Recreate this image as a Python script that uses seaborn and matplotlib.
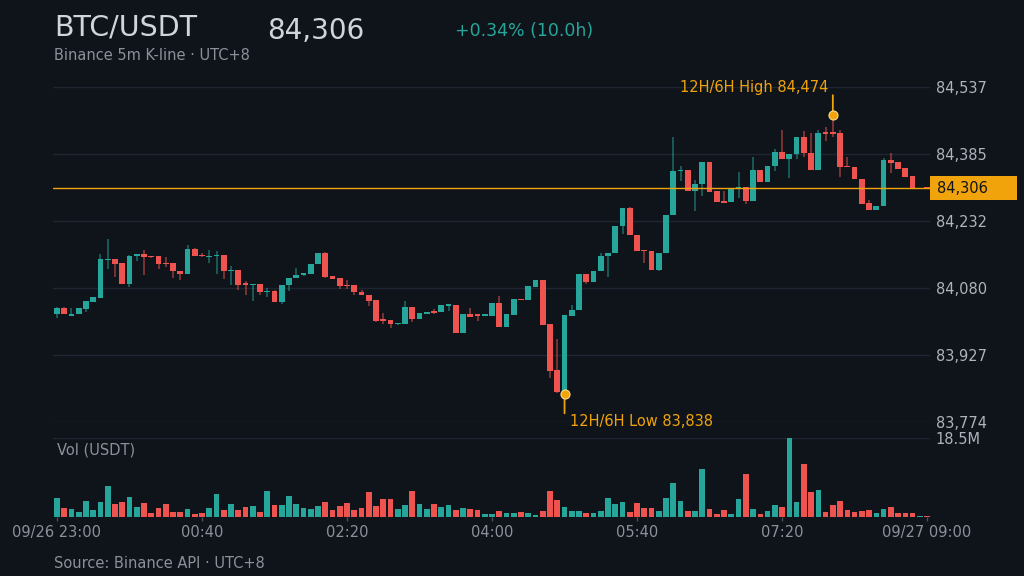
import numpy as np
import pandas as pd
import matplotlib
matplotlib.use('Agg')
import matplotlib.pyplot as plt
import matplotlib.transforms as mtransforms
from matplotlib.patches import Rectangle
import seaborn as sns

# BTC/USDT 5m candles, 09/26 23:00 -> 09/27 09:00 (UTC+8)
opens = [84019, 84033, 84016, 84019, 84031, 84048, 84057, 84143, 84146, 84136,
         84089, 84151, 84157, 84152, 84151, 84137, 84136, 84119, 84112, 84169,
         84155, 84150, 84151, 84154, 84117, 84121, 84090, 84086, 84089, 84070,
         84072, 84048, 84086, 84102, 84108, 84112, 84133, 84160, 84107, 84101,
         84087, 84087, 84071, 84064, 84051, 84008, 84007, 83997, 83998, 84037,
         84008, 84021, 84025, 84025, 84039, 84041, 83976, 84019, 84019, 84016,
         84016, 84044, 83991, 84018, 84054, 84052, 84082, 84098, 83997, 83892,
         83843, 84015, 84030, 84111, 84094, 84118, 84153, 84159, 84220, 84261,
         84200, 84165, 84164, 84121, 84158, 84246, 84345, 84347, 84299, 84316,
         84366, 84299, 84277, 84275, 84304, 84310, 84277, 84348, 84320, 84358,
         84389, 84374, 84384, 84422, 84386, 84349, 84434, 84434, 84433, 84356,
         84355, 84328, 84272, 84256, 84266, 84370, 84366, 84352, 84334, 84304,
         84307]
highs = [84037, 84036, 84033, 84034, 84049, 84059, 84156, 84190, 84146, 84136,
         84154, 84157, 84165, 84153, 84151, 84149, 84136, 84119, 84177, 84170,
         84158, 84166, 84163, 84154, 84130, 84121, 84096, 84089, 84089, 84080,
         84075, 84087, 84102, 84125, 84113, 84133, 84160, 84162, 84107, 84101,
         84098, 84087, 84075, 84064, 84051, 84022, 84007, 84000, 84049, 84037,
         84023, 84025, 84031, 84041, 84041, 84041, 84019, 84033, 84019, 84019,
         84044, 84061, 84020, 84055, 84054, 84083, 84098, 84098, 83997, 83962,
         84017, 84041, 84111, 84111, 84118, 84159, 84159, 84220, 84261, 84263,
         84200, 84165, 84164, 84159, 84246, 84422, 84357, 84347, 84325, 84366,
         84366, 84299, 84301, 84304, 84343, 84310, 84377, 84348, 84358, 84395,
         84439, 84384, 84422, 84436, 84433, 84440, 84446, 84474, 84440, 84377,
         84355, 84328, 84279, 84267, 84375, 84386, 84366, 84352, 84334, 84307,
         84307]
lows = [84010, 84019, 84015, 84019, 84025, 84047, 84057, 84122, 84104, 84089,
        84081, 84140, 84108, 84148, 84122, 84128, 84102, 84098, 84112, 84153,
        84150, 84136, 84112, 84099, 84086, 84074, 84064, 84049, 84063, 84058,
        84048, 84042, 84072, 84102, 84107, 84112, 84133, 84101, 84099, 84078,
        84078, 84063, 84063, 84039, 84001, 83998, 83989, 83996, 83997, 84001,
        84008, 84020, 84020, 84025, 84026, 83976, 83976, 84014, 84004, 84015,
        84016, 83991, 83991, 84018, 84051, 84052, 84082, 83995, 83874, 83840,
        83838, 84015, 84030, 84089, 84094, 84118, 84105, 84159, 84202, 84200,
        84164, 84137, 84121, 84118, 84158, 84246, 84322, 84299, 84255, 84288,
        84298, 84275, 84273, 84275, 84284, 84271, 84277, 84320, 84320, 84346,
        84374, 84329, 84374, 84377, 84349, 84349, 84414, 84422, 84333, 84354,
        84328, 84270, 84256, 84256, 84266, 84342, 84351, 84333, 84305, 84304,
        84306]
closes = [84033, 84019, 84019, 84033, 84049, 84058, 84145, 84146, 84134, 84089,
          84153, 84157, 84149, 84149, 84134, 84133, 84118, 84112, 84169, 84153,
          84151, 84153, 84155, 84119, 84121, 84087, 84086, 84089, 84070, 84073,
          84048, 84087, 84102, 84108, 84113, 84133, 84160, 84105, 84099, 84084,
          84083, 84069, 84063, 84049, 84005, 84004, 83998, 84000, 84037, 84008,
          84023, 84025, 84023, 84041, 84041, 83976, 84019, 84014, 84016, 84019,
          84044, 83991, 84020, 84055, 84051, 84083, 84098, 83995, 83891, 83843,
          84017, 84030, 84111, 84094, 84118, 84153, 84159, 84220, 84261, 84200,
          84164, 84163, 84121, 84159, 84246, 84345, 84347, 84299, 84317, 84366,
          84298, 84275, 84273, 84304, 84310, 84277, 84348, 84320, 84358, 84389,
          84374, 84384, 84422, 84386, 84349, 84433, 84430, 84430, 84355, 84354,
          84328, 84270, 84256, 84267, 84370, 84363, 84351, 84333, 84305, 84307,
          84306]
# volume in millions of USDT
volumes = [4.4, 2.2, 1.9, 1.25, 3.7, 1.6, 3.6, 7.2, 3.1, 3.6,
           4.8, 2.3, 3.3, 0.9, 2.2, 3.0, 1.25, 1.25, 1.9, 0.6,
           0.9, 2.2, 5.5, 1.7, 3.1, 1.7, 2.3, 2.65, 1.1, 6.1,
           2.8, 2.8, 5.0, 3.0, 2.0, 1.9, 2.65, 3.4, 1.6, 2.65,
           3.3, 1.7, 2.0, 5.9, 2.5, 4.1, 4.1, 1.9, 2.8, 6.1,
           3.0, 1.9, 3.1, 2.3, 2.8, 1.7, 2.0, 1.9, 1.6, 0.8,
           0.6, 1.4, 0.9, 0.9, 1.1, 0.9, 0.5, 1.4, 6.1, 3.9,
           2.3, 1.4, 1.4, 0.9, 0.9, 1.4, 4.4, 3.1, 3.4, 1.25,
           3.3, 2.0, 2.2, 1.4, 4.4, 8.0, 3.7, 1.4, 1.4, 11.2,
           1.9, 0.8, 1.7, 0.8, 4.1, 10.1, 1.9, 0.6, 1.4, 2.8,
           2.3, 18.5, 3.4, 12.3, 5.8, 6.4, 1.25, 2.8, 3.7, 1.7,
           1.25, 1.4, 1.6, 0.9, 1.9, 2.3, 0.9, 0.9, 0.9, 0.3,
           0.3]

tick_pos = [0, 20, 40, 60, 80, 100, 120]
tick_labels = ['09/26 23:00', '00:40', '02:20', '04:00', '05:40', '07:20', '09/27 09:00']
price_ticks = [83774, 83927, 84080, 84232, 84385, 84537]

BG = '#0f141b'
GRID = '#1f2631'
UP = '#26a69a'
DOWN = '#ef5350'
ORANGE = '#f0a30a'
TXT = '#d1d4dc'
MUTED = '#8b919b'

sns.set_theme(style='dark', rc={
    'figure.facecolor': BG, 'axes.facecolor': BG, 'savefig.facecolor': BG,
    'grid.color': GRID, 'axes.edgecolor': BG, 'text.color': TXT,
    'xtick.color': MUTED, 'ytick.color': '#aeb3bc',
})
plt.rcParams['font.family'] = ['DejaVu Sans']

df = pd.DataFrame({'o': opens, 'h': highs, 'l': lows, 'c': closes, 'vol': volumes})
df['idx'] = np.arange(len(df))
df['dir'] = np.where(df['c'] >= df['o'], 'up', 'down')
colors = np.where(df['dir'] == 'up', UP, DOWN)

fig = plt.figure(figsize=(10.24, 5.76), dpi=100)
ax = fig.add_axes([53 / 1024, 154 / 576, 877 / 1024, 335 / 576])
axv = fig.add_axes([53 / 1024, 59 / 576, 877 / 1024, 79 / 576], sharex=ax)

# candles
ax.vlines(df['idx'], df['l'], df['h'], colors=colors, linewidth=1.1, alpha=0.6, zorder=2)
body_lo = np.minimum(df['o'], df['c'])
body_h = np.maximum((df['c'] - df['o']).abs(), 3)
ax.bar(df['idx'], body_h, bottom=body_lo, width=0.8, color=colors, linewidth=0, zorder=3)

ax.set_ylim(price_ticks[0], price_ticks[-1])
ax.set_xlim(-0.55, 120.4)
ax.set_yticks(price_ticks)
ax.set_yticklabels([f'{v:,}' for v in price_ticks], fontsize=10.5)
ax.yaxis.tick_right()
ax.tick_params(axis='y', length=0, pad=4)
ax.tick_params(axis='x', length=0, labelbottom=False)
ax.grid(axis='y', color=GRID, linewidth=1)
ax.grid(axis='x', visible=False)
for s in ax.spines.values():
    s.set_visible(False)

# last price line + tag
last = closes[-1]
ax.axhline(last, color=ORANGE, linewidth=1, zorder=4)
blend = mtransforms.blended_transform_factory(ax.transAxes, ax.transData)
span = price_ticks[-1] - price_ticks[0]
ax.add_patch(Rectangle((1.0, last - span * 12 / 335), 87 / 877, span * 24 / 335,
                       transform=blend, facecolor=ORANGE, edgecolor='none', clip_on=False, zorder=5))
ax.text(1.0 + 7 / 877, last, f'{last:,}', transform=blend, ha='left', va='center',
        fontsize=10.5, color=BG, zorder=6)

# 12H/6H high / low markers
hi_i = int(np.argmax(highs))
lo_i = int(np.argmin(lows))
for i, val, dy, dx, ha, lab in [(hi_i, highs[hi_i], 14, -3.4, 'right', 'High'),
                                (lo_i, lows[lo_i], -14, 4, 'left', 'Low')]:
    ax.annotate('', xy=(i, val), xytext=(0, dy), textcoords='offset points',
                arrowprops=dict(arrowstyle='-', color=ORANGE, lw=1.3, shrinkA=0, shrinkB=0), zorder=6)
    ax.plot([i], [val], 'o', ms=6.5, mfc=ORANGE, mec='#ffd98a', mew=0.8, zorder=7)
    ax.annotate(f'12H/6H {lab} {val:,}', xy=(i, val), xytext=(dx, dy * 1.4),
                textcoords='offset points', ha=ha, va='center', fontsize=10.5, color=ORANGE)

# volume panel
sns.barplot(data=df, x='idx', y='vol', hue='dir', palette={'up': UP, 'down': DOWN},
            native_scale=True, dodge=False, width=0.78, saturation=1, errorbar=None,
            legend=False, linewidth=0, ax=axv)
axv.set_ylim(0, max(volumes))
axv.set_xlim(-0.55, 120.4)
axv.set_yticks([max(volumes)])
axv.set_yticklabels([f'{max(volumes):.1f}M'], fontsize=10.5)
axv.yaxis.tick_right()
axv.tick_params(axis='y', length=0, pad=4)
axv.set_xticks(tick_pos)
axv.set_xticklabels(tick_labels, fontsize=10.5)
axv.tick_params(axis='x', length=3, width=1, color='#4a505a', pad=3, bottom=True)
axv.grid(axis='y', color=GRID, linewidth=1)
axv.grid(axis='x', visible=False)
axv.set_xlabel('')
axv.set_ylabel('')
for s in axv.spines.values():
    s.set_visible(False)
axv.text(0.005, 0.85, 'Vol (USDT)', transform=axv.transAxes, fontsize=10.5, color=MUTED,
         ha='left', va='center')

# header / footer
pct = (closes[-1] / opens[0] - 1) * 100
fig.text(54 / 1024, 1 - 27 / 576, 'BTC/USDT', fontsize=20.5, color=TXT, va='center')
fig.text(267 / 1024, 1 - 31 / 576, f'{last:,}', fontsize=20, color=TXT, va='center')
fig.text(455 / 1024, 1 - 31 / 576, f'{pct:+.2f}% (10.0h)', fontsize=12.5, color=UP, va='center')
fig.text(54 / 1024, 1 - 55 / 576, 'Binance 5m K-line · UTC+8', fontsize=10.5, color=MUTED, va='center')
fig.text(54 / 1024, 1 - 563 / 576, 'Source: Binance API · UTC+8', fontsize=10.5, color=MUTED, va='center')

fig.savefig('out.png', dpi=100, facecolor=BG)
